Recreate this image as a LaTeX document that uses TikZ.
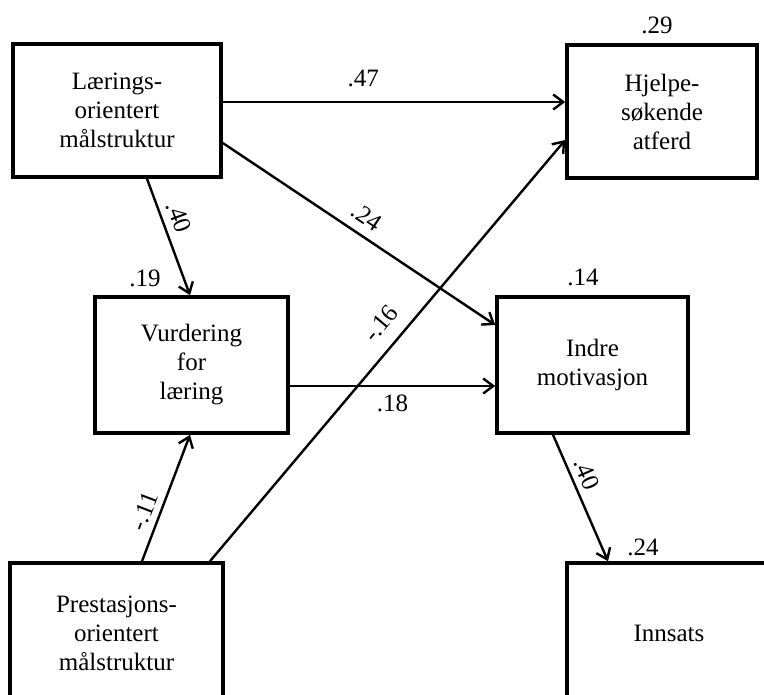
\documentclass[tikz,border=0pt]{standalone}
\usepackage{fontspec}
\setmainfont{Liberation Serif}
\usetikzlibrary{arrows.meta}

\begin{document}
\begin{tikzpicture}[x=1pt,y=-1pt,>={Straight Barb[length=10pt,width=15pt]},
    font=\fontsize{25}{29}\selectfont,
    box/.style={draw,line width=3.6pt,align=center,inner sep=0pt},
    effect/.style={->,line width=2.4pt},
    coef/.style={sloped,above,inner sep=7pt}]
    \useasboundingbox (0,0) rectangle (764,695);
    \clip (0,0) rectangle (764,695);

    % Boxes
    \node[box,minimum width=208pt,minimum height=133pt] (laering) at (117,110.5) {Lærings-\\orientert\\målstruktur};
    \node[box,minimum width=190pt,minimum height=133pt] (hjelp) at (662,111.5) {Hjelpe-\\søkende\\atferd};
    \node[box,minimum width=193pt,minimum height=136pt] (vurd) at (191.5,365) {Vurdering\\for\\læring};
    \node[box,minimum width=191pt,minimum height=136pt] (indre) at (592.5,365) {Indre\\motivasjon};
    \node[box,minimum width=213pt,minimum height=140pt] (prest) at (116.5,633) {Prestasjons-\\orientert\\målstruktur};
    \node[box,minimum width=204pt,minimum height=140pt] (innsats) at (669,633) {Innsats};

    % Explained variance
    \node (r2hjelp) at (657,25) {.29};
    \node (r2vurd) at (145,278) {.19};
    \node (r2indre) at (583,277) {.14};
    \node (r2innsats) at (643,547) {.24};

    % Paths
    \draw[effect] ([yshift=8.5pt]laering.east) -- node[pos=0.41,above,inner sep=14pt] {.47} ([yshift=8.5pt]laering.east -| hjelp.west);
    \draw[effect] ([yshift=-32.5pt]laering.east) -- node[coef,pos=0.49,inner sep=9pt] {.24} ([yshift=40pt]indre.west);
    \draw[effect] ([xshift=30pt]laering.south) -- node[coef,pos=0.38] {.40} ([xshift=-1.5pt]vurd.north);
    \draw[effect] ([yshift=-21pt]vurd.east) -- node[below,inner sep=8pt] {.18} ([yshift=-21pt]indre.west);
    \draw[effect] ([xshift=25.5pt]prest.north) -- node[coef,pos=0.35,inner sep=6pt] {-.11} ([xshift=-1.5pt]vurd.south);
    \draw[effect] ([xshift=93.5pt]prest.north) -- node[coef,pos=0.53,inner sep=13pt] {-.16} ([yshift=-28.5pt]hjelp.west);
    \draw[effect] ([xshift=-39.5pt]indre.south) -- node[coef,pos=0.36,inner sep=6pt] {.40} ([xshift=-61pt]innsats.north);
\end{tikzpicture}
\end{document}
